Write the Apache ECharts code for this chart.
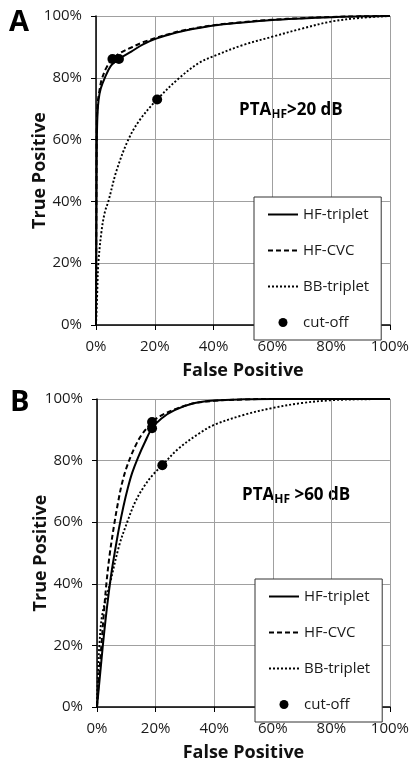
<!DOCTYPE html>
<html>
<head>
<meta charset="utf-8">
<script src="https://cdn.jsdelivr.net/npm/echarts@6/dist/echarts.min.js"></script>
<style>
  html, body { margin: 0; padding: 0; background: #fff; }
  #chart { width: 412px; height: 763px; }
</style>
</head>
<body>
<div id="chart"></div>
<script>
// ROC curves, [false positive %, true positive %]
// Panel A: PTA_HF > 20 dB
const aHfTriplet = [[0,0],[0.1,20],[0.2,40],[0.3,60],[0.5,68],[0.9,73],[1.6,76.5],[3,80],[5,83.8],[7.8,86.1],[12,88.5],[16,90.8],[20,92.5],[25,94],[30,95.2],[40,96.9],[50,97.9],[60,98.7],[70,99.2],[80,99.6],[90,99.9],[100,100]];
const aHfCvc = [[0,0],[0.1,30],[0.2,55],[0.3,66],[0.6,72],[1.2,76],[1.9,79.3],[3.5,83.2],[5.6,86.1],[8,87.9],[12,89.8],[16,91.5],[20,92.8],[25,94.2],[30,95.4],[40,97],[50,98],[60,98.8],[70,99.3],[80,99.7],[90,99.9],[100,100]];
const aBbTriplet = [[0,0],[0.2,5],[0.4,10],[0.8,20],[1.9,30.5],[3,36.5],[4.2,40],[7,50],[11,60],[15,66.5],[20.8,73],[28.4,80],[35,84.8],[40,87],[50,90.6],[60,93.3],[70,95.9],[80,98.2],[90,99.4],[100,100]];
const aCutoff = [[5.6,86.1],[7.8,86.1],[20.8,73]];

// Panel B: PTA_HF > 60 dB
const bHfTriplet = [[0,0],[1,10],[2,20],[3,29],[4,37],[5,44],[6.2,51],[7.5,58],[9,65],[10.5,71],[12,76],[14,81],[16.5,86.3],[18.8,90.5],[22,93.7],[26.5,96.4],[33,98.6],[40,99.5],[50,99.9],[60,100],[100,100]];
const bHfCvc = [[0,0],[0.7,10],[1.5,20],[2.3,30],[3.2,40],[4.4,50],[6,60],[7.2,66.5],[8.5,72.5],[10,77.5],[11.8,82],[13.5,85.5],[15.2,88.3],[18.8,92.5],[22,94.7],[27,96.8],[33,98.6],[40,99.4],[50,99.85],[60,100],[100,100]];
const bBbTriplet = [[0,0],[0.3,10],[0.8,20],[1.8,30],[4.4,40],[7.6,52.5],[10.3,60],[13,66.5],[16,71.5],[19,75.3],[22.3,78.5],[27.7,83.8],[35,88.9],[40,91.6],[50,94.8],[60,97.1],[70,98.7],[80,99.6],[90,99.9],[100,100]];
const bCutoff = [[18.8,92.5],[18.8,90.5],[22.3,78.5]];

const seriesNames = ['HF-triplet', 'HF-CVC', 'BB-triplet', 'cut-off'];
const panelLetters = ['A', 'B'];
const panelNotes = ['>20 dB', ' >60 dB'];

const FONT = '"Open Sans", sans-serif';
const GRID_COLOR = '#a0a0a0';

function xAxisFor(gi) {
  return {
    type: 'value', gridIndex: gi, min: 0, max: 100, interval: 20,
    name: 'False Positive', nameLocation: 'middle', nameGap: 37, nameMoveOverlap: false,
    nameTextStyle: { fontFamily: FONT, fontSize: 18, fontWeight: 'bold', color: '#111' },
    axisLine: { show: true, onZero: false, lineStyle: { color: '#000', width: 1.5 } },
    axisTick: { show: true, length: 5, lineStyle: { color: '#000', width: 1 } },
    axisLabel: { formatter: '{value}%', fontFamily: FONT, fontSize: 15, color: '#1a1a1a', margin: 14 },
    splitLine: { show: true, lineStyle: { color: GRID_COLOR, width: 1 } }
  };
}
function yAxisFor(gi) {
  return {
    type: 'value', gridIndex: gi, min: 0, max: 100, interval: 20,
    name: 'True Positive', nameLocation: 'middle', nameGap: 47, nameRotate: 90, nameMoveOverlap: false,
    nameTextStyle: { fontFamily: FONT, fontSize: 18, fontWeight: 'bold', color: '#111' },
    axisLine: { show: true, onZero: false, lineStyle: { color: '#000', width: 1.5 } },
    axisTick: { show: true, length: 5, lineStyle: { color: '#000', width: 1 } },
    axisLabel: { formatter: '{value}%', fontFamily: FONT, fontSize: 15, color: '#1a1a1a', margin: 14 },
    splitLine: { show: true, lineStyle: { color: GRID_COLOR, width: 1 } }
  };
}
function lineSeries(name, gi, data, type, width) {
  return {
    name, type: 'line', xAxisIndex: gi, yAxisIndex: gi, data,
    smooth: 0.35, symbol: 'none', silent: true,
    lineStyle: { color: '#000', width, type },
    // the marker is hidden so the legend shows only the line sample
    itemStyle: { color: '#000', opacity: 0 },
    z: 3
  };
}
function cutSeries(gi, data) {
  return {
    name: 'cut-off', type: 'scatter', xAxisIndex: gi, yAxisIndex: gi, data,
    symbol: 'circle', symbolSize: 10, itemStyle: { color: '#000', opacity: 1 }, z: 5
  };
}
function legendFor(left, top) {
  return {
    data: seriesNames, orient: 'vertical', left, top,
    itemWidth: 30, itemHeight: 9, itemGap: 21,
    padding: [10, 12, 10, 13],
    backgroundColor: '#fff', borderColor: '#333', borderWidth: 1, borderRadius: 0,
    textStyle: { fontFamily: FONT, fontSize: 15, color: '#1a1a1a' },
    selectedMode: false
  };
}
function noteText(x, y, tail) {
  return {
    type: 'text', left: x, top: y,
    style: {
      text: '{a|PTA}{s|HF}{a|' + tail + '}',
      rich: {
        a: { fontFamily: FONT, fontSize: 17, fontWeight: 'bold', color: '#111', lineHeight: 22 },
        s: { fontFamily: FONT, fontSize: 12, fontWeight: 'bold', color: '#111', lineHeight: 12, verticalAlign: 'bottom', padding: [9, 0, 0, 0] }
      }
    }
  };
}

const option = {
  animation: false,
  backgroundColor: '#fff',
  grid: [
    { left: 96, top: 16, width: 296, height: 309 },
    { left: 97, top: 399, width: 294, height: 311 }
  ],
  xAxis: [xAxisFor(0), xAxisFor(1)],
  yAxis: [yAxisFor(0), yAxisFor(1)],
  legend: [legendFor(254, 197), legendFor(255, 579)],
  series: [
    lineSeries('HF-triplet', 0, aHfTriplet, 'solid', 2),
    lineSeries('HF-CVC', 0, aHfCvc, [5, 3], 2),
    lineSeries('BB-triplet', 0, aBbTriplet, [2, 2], 1.9),
    cutSeries(0, aCutoff),
    lineSeries('HF-triplet', 1, bHfTriplet, 'solid', 2),
    lineSeries('HF-CVC', 1, bHfCvc, [5, 3], 2),
    lineSeries('BB-triplet', 1, bBbTriplet, [2, 2], 1.9),
    cutSeries(1, bCutoff)
  ],
  graphic: [
    { type: 'text', left: 9, top: 8, style: { text: panelLetters[0], fontFamily: FONT, fontSize: 29, fontWeight: 'bold', fill: '#000' } },
    { type: 'text', left: 10, top: 388, style: { text: panelLetters[1], fontFamily: FONT, fontSize: 29, fontWeight: 'bold', fill: '#000' } },
    noteText(239, 100, panelNotes[0]),
    noteText(242, 485, panelNotes[1])
  ]
};

const chart = echarts.init(document.getElementById('chart'), null, { renderer: 'canvas' });
chart.setOption(option);
</script>
</body>
</html>
